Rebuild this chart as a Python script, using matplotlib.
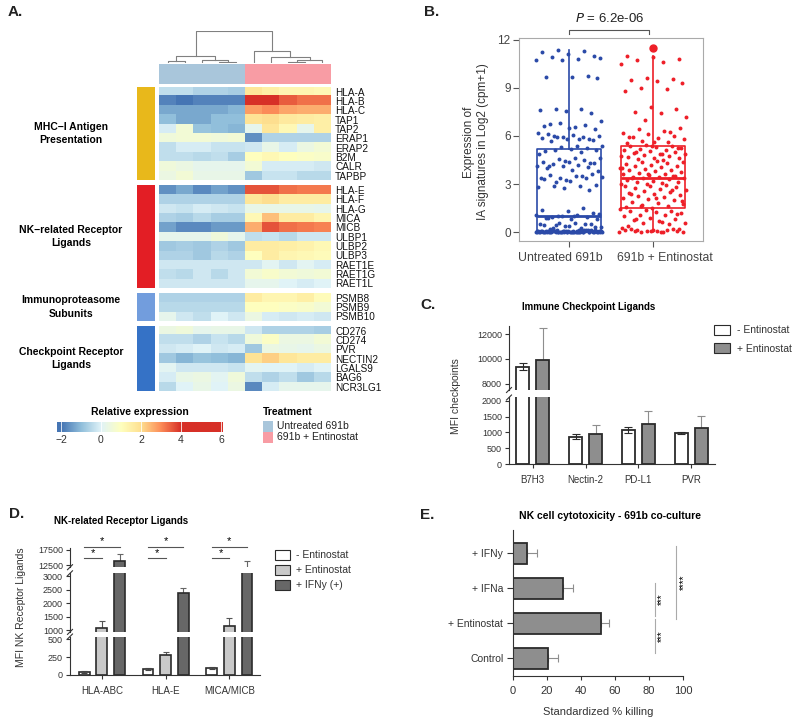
import numpy as np
import matplotlib
matplotlib.use("Agg")
import matplotlib.pyplot as plt
from matplotlib.colors import LinearSegmentedColormap, ListedColormap, Normalize
from matplotlib.patches import Rectangle

plt.rcParams['font.family'] = ['Liberation Sans', 'DejaVu Sans']

W, H = 793, 719

# ---------------- A. heatmap data ----------------
genes = ["HLA-A", "HLA-B", "HLA-C", "TAP1", "TAP2", "ERAP1", "ERAP2", "B2M", "CALR", "TAPBP",
         "HLA-E", "HLA-F", "HLA-G", "MICA", "MICB", "ULBP1", "ULBP2", "ULBP3", "RAET1E", "RAET1G", "RAET1L",
         "PSMB8", "PSMB9", "PSMB10",
         "CD276", "CD274", "PVR", "NECTIN2", "LGALS9", "BAG6", "NCR3LG1"]
group_names = ["MHC\u2212I Antigen\nPresentation", "NK\u2212related Receptor\nLigands",
               "Immunoproteasome\nSubunits", "Checkpoint Receptor\nLigands"]
group_sizes = [10, 11, 3, 7]
group_colors = ['#e8b81b', '#e31e25', '#729ddd', '#3572c6']
treatment = [0, 0, 0, 0, 0, 1, 1, 1, 1, 1]
treatment_names = ["Untreated 691b", "691b + Entinostat"]
treatment_colors = ['#a9c6db', '#f89ca4']

expr = np.array([
    [-0.4, -0.4, -0.6, -0.6, -0.7, 1.8, 1.5, 1.3, 1.3, 1.2],
    [-1.8, -2.0, -1.8, -1.8, -1.8, 4.5, 4.0, 3.5, 3.3, 3.3],
    [-1.3, -1.3, -1.3, -1.3, -1.1, 2.8, 3.0, 2.7, 2.6, 2.6],
    [-1.0, -1.3, -1.3, -1.0, -1.0, 1.9, 2.0, 1.7, 1.6, 1.5],
    [-0.1, 0.6, -0.9, -1.0, -1.1, 0.2, 1.8, 1.2, 0.2, 1.5],
    [0.5, 0.6, 0.6, 0.5, 0.6, -1.6, -0.6, -0.6, -0.6, -0.6],
    [-0.4, -0.1, -0.1, -0.3, -0.3, -0.2, 0.3, -0.1, 0.4, 0.6],
    [-0.4, -0.4, -0.5, -0.4, -0.7, 1.0, 1.2, 1.0, 0.9, 0.8],
    [0.5, 0.4, 0.2, 0.2, 0.2, 0.6, -0.1, -0.1, -0.1, -0.2],
    [0.4, 0.6, 0.3, 0.3, 0.3, -0.8, -0.3, -0.3, -0.5, -0.5],
    [-1.6, -1.3, -1.7, -1.4, -1.6, 3.6, 3.6, 3.3, 3.2, 3.2],
    [-0.6, -0.6, -0.6, -0.6, -0.6, 1.8, 2.0, 1.6, 1.6, 1.6],
    [-0.2, -0.3, -0.1, -0.2, -0.3, 0.3, 0.3, 0.3, 0.3, 0.2],
    [-0.6, -0.7, -0.5, -0.7, -0.7, 1.2, 2.4, 1.6, 1.6, 1.3],
    [-1.4, -1.7, -1.7, -1.5, -1.5, 2.6, 3.6, 3.3, 3.2, 3.1],
    [0.2, 0.2, 0.2, 0.5, 0.2, -0.4, -0.3, -0.5, -0.2, -0.2],
    [-0.8, -0.7, -0.8, -0.6, -0.8, 1.6, 1.6, 1.5, 1.4, 1.2],
    [-0.6, -0.6, -0.8, -0.5, -0.6, 1.0, 1.6, 1.3, 1.2, 1.1],
    [-0.2, -0.2, -0.2, -0.2, -0.2, -0.2, 0.1, -0.2, 0.1, -0.1],
    [-0.4, -0.5, -0.2, -0.5, -0.2, 0.6, 0.8, 0.6, 0.5, 0.6],
    [-0.2, -0.2, -0.2, -0.2, -0.2, 0.2, 0.2, 0.0, -0.1, 0.0],
    [-0.6, -0.6, -0.6, -0.6, -0.6, 1.6, 1.3, 1.3, 1.5, 1.1],
    [-0.5, -0.5, -0.5, -0.5, -0.5, 1.0, 1.0, 0.9, 0.8, 0.6],
    [0.2, -0.2, -0.4, 0.0, -0.2, 0.4, -0.1, -0.2, -0.1, -0.2],
    [0.4, 0.5, 0.2, 0.3, 0.3, -0.2, -0.6, -0.6, -0.6, -0.7],
    [-0.4, -0.4, -0.6, -0.3, -0.5, 0.5, 0.9, 0.4, 0.4, 0.6],
    [-0.2, -0.1, 0.0, -0.2, -0.1, -0.8, 0.4, 0.3, 0.2, 0.4],
    [-0.8, -1.1, -0.9, -1.0, -1.1, 1.9, 2.2, 1.8, 1.6, 1.6],
    [0.1, -0.2, -0.2, -0.2, -0.3, 0.1, 0.0, 0.0, -0.1, 0.0],
    [-0.1, 0.3, 0.4, 0.1, 0.5, -0.4, -0.6, -0.4, -0.8, -0.5],
    [-0.5, 0.0, 0.3, 0.0, 0.4, -1.7, -0.1, 0.2, 0.2, 0.2],
])

# column dendrogram: (left node, right node, height); new nodes numbered from 10
dendro_merges = [(0, 1, 0.25), (3, 4, 0.1), (2, 11, 0.45), (10, 12, 1.0),
                 (7, 8, 0.05), (14, 9, 0.4), (6, 15, 0.9), (5, 16, 1.8), (13, 17, 4.8)]

cbar_ticks = [-2, 0, 2, 4, 6]
cmap_nodes = [-2, -1, 0, 1, 2, 3, 4, 6]
cmap_cols = ['#4575b4', '#91bfdb', '#e0f3f8', '#ffffbf', '#fee090', '#fc8d59', '#d73027', '#d73027']

# ---------------- B. box plot data ----------------
b_groups = ["Untreated 691b", "691b + Entinostat"]
b_pvalue = "6.2e-06"
b_untreated = [
    0.0, 0.02, 0.05, 0.01, 0.03, 0.08, 0.0, 0.04, 0.06, 0.02, 0.1, 0.0, 0.03, 0.07, 0.01,
    0.05, 0.12, 0.0, 0.02, 0.09, 0.04, 0.06, 0.0, 0.03, 0.11, 0.05, 0.01, 0.08, 0.02, 0.0,
    0.04, 0.07, 0.13, 0.03, 0.06, 0.01, 0.09, 0.0, 0.05, 0.02, 0.15, 0.04, 0.0, 0.01, 0.03,
    0.06, 0.1, 0.02, 0.0, 0.05, 0.08, 0.01, 0.04, 0.12, 0.0, 0.03, 0.07, 0.02, 0.09, 0.0,
    0.06, 0.01, 0.14, 0.03, 0.05, 0.0, 0.02, 0.08, 0.04, 0.11,
    0.25, 0.3, 0.4, 0.45, 0.5, 0.55, 0.35, 0.6, 0.2, 0.48, 0.38, 0.52, 0.28, 0.42,
    0.8, 0.85, 0.9, 0.95, 1.0, 1.05, 1.1, 0.92, 1.2, 1.3, 1.4, 1.5, 0.98, 1.15, 1.02, 0.88,
    2.65, 2.75, 2.8, 2.85, 2.9, 2.95,
    3.2, 3.3, 3.35, 3.4, 3.45, 3.5, 3.55, 3.6, 3.25, 3.38, 3.48, 3.15,
    3.8, 3.9, 4.0, 4.05, 4.1, 4.15, 4.2, 4.25, 4.3, 4.35, 4.4, 4.5, 4.55, 4.6, 4.65, 4.12, 4.28, 4.45,
    4.9, 5.0, 5.1, 5.15, 5.2, 5.05,
    5.25, 5.3, 5.35, 5.4,
    5.7, 5.75, 5.8, 5.85, 5.9, 5.95, 6.0, 6.05, 6.1, 5.82, 5.92, 6.15, 5.78, 6.02,
    6.4, 6.5, 6.6, 6.7, 6.8, 6.9, 6.55, 6.75,
    7.45, 7.55, 7.6, 7.65, 7.7,
    9.6, 9.65, 9.7, 9.75,
    10.7, 10.75, 10.8, 10.9, 11.0, 11.1, 11.2, 11.3, 11.35, 10.85]
b_treated = [
    0.0, 0.02, 0.05, 0.08, 0.1, 0.12, 0.15, 0.0, 0.03, 0.06, 0.18, 0.2, 0.09, 0.25, 0.04, 0.14, 0.22, 0.11,
    0.4, 0.5, 0.55, 0.6, 0.7, 0.75, 0.8, 0.9, 1.0, 1.05, 1.1, 1.2, 1.25, 1.3, 1.35, 1.4, 1.45, 0.65, 0.85, 1.15,
    1.5, 1.55, 1.6, 1.7, 1.75, 1.8, 1.9, 2.0, 2.05, 2.1, 2.2, 2.25, 2.3, 2.4, 2.45, 2.5, 2.55, 2.6,
    2.7, 2.75, 2.8, 2.85, 2.9, 2.95, 1.65, 1.95, 2.15, 2.35, 2.65, 2.98,
    3.0, 3.05, 3.1, 3.15, 3.2, 3.25, 3.3, 3.35, 3.4, 3.42, 3.45, 3.5, 3.55, 3.6, 3.65, 3.7, 3.75, 3.8,
    3.85, 3.9, 3.95, 4.0, 4.05, 4.1, 4.15, 4.2, 4.25, 4.3, 4.35, 4.4, 4.45, 3.38, 3.48, 3.62, 4.02,
    4.5, 4.55, 4.6, 4.65, 4.7, 4.75, 4.8, 4.85, 4.9, 4.95, 5.0, 5.05, 5.1, 5.15, 5.2, 5.25, 5.3, 5.35,
    5.4, 5.45, 4.72, 4.88, 5.02, 5.22, 5.38,
    5.55, 5.6, 5.7, 5.8, 5.85, 5.9, 6.0, 6.1, 6.2, 6.3, 6.4, 6.5, 5.65, 5.95, 6.25,
    7.0, 7.2, 7.4, 7.5, 7.7, 7.8,
    8.8, 8.9, 9.0, 9.3, 9.4, 9.5, 9.55, 9.6,
    10.5, 10.6, 10.7, 10.8, 10.9, 11.0]
b_stats = [dict(med=1.0, q1=0.0, q3=5.2, whislo=0.0, whishi=11.35, fliers=[]),
           dict(med=3.4, q1=1.5, q3=5.35, whislo=0.0, whishi=11.0, fliers=[11.5])]
b_colors = ['#2b4aa8', '#ee1f28']

# ---------------- C. checkpoint ligands ----------------
c_cats = ["B7H3", "Nectin-2", "PD-L1", "PVR"]
c_minus = [9400, 870, 1080, 975]
c_minus_err = [300, 80, 100, 30]
c_plus = [9900, 960, 1265, 1150]
c_plus_err = [2550, 265, 410, 370]

# ---------------- D. NK receptor ligands ----------------
d_cats = ["HLA-ABC", "HLA-E", "MICA/MICB"]
d_minus = [42, 88, 98]
d_minus_err = [18, 17, 12]
d_plus = [1060, 281, 1150]
d_plus_err = [280, 38, 280]
d_ifng = [14000, 2360, 9000]
d_ifng_err = [2300, 210, 4700]

# ---------------- E. cytotoxicity ----------------
e_cats = ["Control", "+ Entinostat", "+ IFNa", "+ IFNy"]
e_vals = [20.3, 51.5, 29.6, 8.0]
e_err = [5.9, 5.1, 5.4, 5.9]

fig = plt.figure(figsize=(W / 100, H / 100), dpi=100)


def add_ax(x0, y0, x1, y1):
    return fig.add_axes([x0 / W, 1 - y1 / H, (x1 - x0) / W, (y1 - y0) / H])


def ftext(x, y, s, **kw):
    return fig.text(x / W, 1 - y / H, s, **kw)


def frect(x0, y0, x1, y1, **kw):
    fig.add_artist(Rectangle((x0 / W, 1 - y1 / H), (x1 - x0) / W, (y1 - y0) / H,
                             transform=fig.transFigure, **kw))


def clean(ax):
    for s in ax.spines.values():
        s.set_visible(False)
    ax.set_xticks([])
    ax.set_yticks([])


# ======== A ========
cmap = LinearSegmentedColormap.from_list(
    'hm', [((v + 2) / 8, c) for v, c in zip(cmap_nodes, cmap_cols)])
norm = Normalize(-2, 6)

row_h = 9.33
top = 87
start = 0
for g, n in enumerate(group_sizes):
    bottom = top + n * row_h
    ax = add_ax(159, top, 331, bottom)
    ax.imshow(expr[start:start + n], cmap=cmap, norm=norm, aspect='auto', interpolation='nearest')
    clean(ax)
    ax.set_yticks(range(n))
    ax.set_yticklabels(genes[start:start + n], fontsize=7.2, color='#111111')
    ax.yaxis.tick_right()
    ax.tick_params(axis='y', length=0, pad=3)
    gb = add_ax(137, top, 155.5, bottom)
    gb.set_facecolor(group_colors[g])
    clean(gb)
    ftext(71, (top + bottom) / 2, group_names[g], ha='center', va='center', fontsize=7.5,
          fontweight='bold', linespacing=1.4)
    start += n
    top = bottom + 5

axa = add_ax(159, 64, 331, 84)
axa.imshow([treatment], cmap=ListedColormap(treatment_colors), vmin=0, vmax=1, aspect='auto')
clean(axa)

axd = add_ax(159, 31, 331, 62.5)
pos = {i: float(i) for i in range(10)}
hgt = {i: 0.0 for i in range(10)}
for k, (a, b, h) in enumerate(dendro_merges):
    xa, xb = pos[a], pos[b]
    axd.plot([xa, xa, xb, xb], [hgt[a], h, h, hgt[b]], color='#808080', lw=0.8)
    pos[10 + k] = (xa + xb) / 2
    hgt[10 + k] = h
axd.set_xlim(-0.5, 9.5)
axd.set_ylim(0, 4.85)
axd.axis('off')

axc = add_ax(57, 421.5, 223, 432.5)
grad = np.linspace(-2.2, 6.1, 400)
axc.imshow([grad], cmap=cmap, norm=norm, aspect='auto', extent=(-2.2, 6.1, 0, 1))
for t in cbar_ticks:
    axc.axvline(t, color='white', lw=0.7, alpha=0.8)
for s in axc.spines.values():
    s.set_visible(False)
axc.set_yticks([])
axc.set_xticks(cbar_ticks)
axc.tick_params(axis='x', length=0, labelsize=7.5, pad=2, labelcolor='#333333')
ftext(140, 412, "Relative expression", ha='center', va='center', fontsize=7.5, fontweight='bold')

ftext(262.5, 412, "Treatment", ha='left', va='center', fontsize=7.5, fontweight='bold')
for i, (nm, col) in enumerate(zip(treatment_names, treatment_colors)):
    frect(262.5, 421 + i * 11, 273, 431.5 + i * 11, facecolor=col, edgecolor='none')
    ftext(277, 426.5 + i * 11, nm, ha='left', va='center', fontsize=7.5, color='#222222')

# ======== B ========
axB = add_ax(519, 38, 703, 241)
for i, (st, col) in enumerate(zip(b_stats, b_colors)):
    axB.bxp([st], positions=[i + 1], widths=0.76, showcaps=False, patch_artist=False,
            boxprops=dict(color=col, lw=1.2), medianprops=dict(color=col, lw=2.0),
            whiskerprops=dict(color=col, lw=1.2),
            flierprops=dict(marker='o', markerfacecolor=col, markeredgecolor=col, markersize=5))
for i, (vals, col) in enumerate(zip([b_untreated, b_treated], b_colors)):
    n = len(vals)
    xj = ((np.arange(n) * 0.6180339887) % 1.0 - 0.5) * 0.8
    axB.scatter(i + 1 + xj, vals, s=8, color=col, linewidths=0, zorder=3)
axB.set_xlim(0.4, 2.6)
axB.set_ylim(-0.55, 12.1)
axB.set_yticks([0, 3, 6, 9, 12])
axB.set_xticks([1, 2])
axB.set_xticklabels([])
axB.tick_params(axis='both', colors='#555555', labelcolor='#444444', length=4, width=0.8)
axB.tick_params(axis='y', labelsize=8.5, pad=2)
# group labels sit a little apart from the tick marks, as in the source figure
for xl, nm in zip([0.89, 2.14], b_groups):
    axB.text(xl, -1.6, nm, ha='center', va='center', fontsize=8.8, color='#444444', clip_on=False)
for s in axB.spines.values():
    s.set_color('#aaaaaa')
    s.set_linewidth(0.8)
axB.plot([1, 1, 1.95, 1.95], [12.35, 12.62, 12.62, 12.35], color='#555555', lw=0.8, clip_on=False)
ftext(610, 19, r"$\it{P}$ = " + b_pvalue, ha='center', va='center', fontsize=9.5, color='#222222')
ftext(476, 142, "Expression of\nIA signatures in Log2 (cpm+1)", ha='center', va='center',
      rotation=90, fontsize=8.5, color='#333333', linespacing=1.3)


# ======== broken bar helpers ========
def style_part(ax, ylim, ticks, last, x_lim, fs=6.5):
    ax.set_ylim(*ylim)
    ax.set_xlim(*x_lim)
    ax.set_yticks(ticks)
    ax.tick_params(axis='y', labelsize=fs, length=3, width=0.8, colors='#333333', pad=2)
    ax.spines['top'].set_visible(False)
    ax.spines['right'].set_visible(False)
    ax.spines['left'].set_color('#333333')
    ax.spines['bottom'].set_color('#333333')
    if not last:
        ax.spines['bottom'].set_visible(False)
        ax.set_xticks([])
    ax.patch.set_alpha(0)


def slash(ax, where):
    # short diagonal at the left spine end (where = 0 bottom, 1 top)
    bb = ax.get_position()
    dx = 2.5 / (bb.width * W)
    dy = 2.5 / (bb.height * H)
    ax.plot([-dx, dx], [where - dy, where + dy], transform=ax.transAxes, color='#333333',
            lw=0.8, clip_on=False)


# ======== C ========
def c_bars(ax):
    x = np.arange(len(c_cats))
    ax.bar(x - 0.19, c_minus, 0.24, color='white', edgecolor='#2b2b2b', lw=1.3, zorder=2)
    ax.errorbar(x - 0.19, c_minus, yerr=c_minus_err, fmt='none', ecolor='#2b2b2b',
                elinewidth=0.8, capsize=3, capthick=0.8, zorder=3)
    ax.bar(x + 0.19, c_plus, 0.24, color='#8e8e8e', edgecolor='#2b2b2b', lw=1.3, zorder=2)
    ax.errorbar(x + 0.19, c_plus, yerr=[np.zeros(len(c_plus)), c_plus_err], fmt='none',
                ecolor='#8e8e8e', elinewidth=0.8, capsize=3, capthick=0.8, zorder=1)


cU = add_ax(509, 326, 715, 390)
cL = add_ax(509, 397.5, 715, 464.3)
for ax in (cU, cL):
    c_bars(ax)
style_part(cU, (7520, 12640), [8000, 10000, 12000], False, (-0.45, 3.45))
style_part(cL, (0, 2100), [0, 500, 1000, 1500, 2000], True, (-0.45, 3.45))
cL.set_xticks(range(len(c_cats)))
cL.set_xticklabels(c_cats)
cL.tick_params(axis='x', labelsize=7, length=3, width=0.8, colors='#333333', pad=5)
slash(cU, 0)
slash(cL, 1)
ftext(456, 396, "MFI checkpoints", ha='center', va='center', rotation=90, fontsize=7.5, color='#333333')
ftext(589, 307, "Immune Checkpoint Ligands", ha='center', va='center', fontsize=7, fontweight='bold')
for i, (nm, col) in enumerate(zip(["- Entinostat", "+ Entinostat"], ['white', '#8e8e8e'])):
    frect(713.5, 325 + i * 18.5, 729.5, 334.5 + i * 18.5, facecolor=col, edgecolor='#2b2b2b', lw=0.8)
    ftext(737, 330 + i * 18.5, nm, ha='left', va='center', fontsize=7.5, color='#333333')


# ======== D ========
def d_bars(ax):
    x = np.arange(len(d_cats))
    z = np.zeros(len(d_cats))
    ax.bar(x - 0.277, d_minus, 0.17, color='white', edgecolor='#2b2b2b', lw=1.2, zorder=2)
    ax.errorbar(x - 0.277, d_minus, yerr=d_minus_err, fmt='none', ecolor='#444444',
                elinewidth=0.8, capsize=2.5, capthick=0.8, zorder=3)
    ax.bar(x, d_plus, 0.17, color='#c9c9c9', edgecolor='#2b2b2b', lw=1.2, zorder=2)
    ax.errorbar(x, d_plus, yerr=[z, d_plus_err], fmt='none', ecolor='#555555',
                elinewidth=0.8, capsize=2.5, capthick=0.8, zorder=1)
    ax.bar(x + 0.277, d_ifng, 0.17, color='#676767', edgecolor='#2b2b2b', lw=1.2, zorder=2)
    ax.errorbar(x + 0.277, d_ifng, yerr=[z, d_ifng_err], fmt='none', ecolor='#666666',
                elinewidth=0.8, capsize=2.5, capthick=0.8, zorder=1)


dT = add_ax(70, 548.4, 260, 567.2)
dM = add_ax(70, 573.3, 260, 631.9)
dB = add_ax(70, 636.5, 260, 675)
for ax in (dT, dM, dB):
    d_bars(ax)
style_part(dT, (11800, 18000), [12500, 17500], False, (-0.5, 2.48))
style_part(dM, (930, 3100), [1000, 1500, 2000, 2500, 3000], False, (-0.5, 2.48))
style_part(dB, (0, 540), [0, 250, 500], True, (-0.5, 2.48))
dB.set_xticks(range(len(d_cats)))
dB.set_xticklabels(d_cats)
dB.tick_params(axis='x', labelsize=7, length=3, width=0.8, colors='#333333', pad=5)
slash(dT, 0)
slash(dM, 1)
slash(dM, 0)
slash(dB, 1)
for i in range(len(d_cats)):
    dT.plot([i - 0.277, i + 0.277], [18560, 18560], color='#555555', lw=0.8, clip_on=False)
    dT.plot([i - 0.277, i], [14735, 14735], color='#555555', lw=0.8, clip_on=False)
    dT.text(i, 18700, "*", ha='center', va='bottom', fontsize=8, clip_on=False)
    dT.text(i - 0.1385, 14850, "*", ha='center', va='bottom', fontsize=8, clip_on=False)
ftext(21, 607, "MFI NK Receptor Ligands", ha='center', va='center', rotation=90, fontsize=7.5, color='#333333')
ftext(121, 521, "NK-related Receptor Ligands", ha='center', va='center', fontsize=7, fontweight='bold')
for i, (nm, col) in enumerate(zip(["- Entinostat", "+ Entinostat", "+ IFNy (+)"],
                                  ['white', '#c9c9c9', '#676767'])):
    frect(274.5, 549.5 + i * 15.3, 289.5, 559.5 + i * 15.3, facecolor=col, edgecolor='#2b2b2b', lw=0.8)
    ftext(296, 554.5 + i * 15.3, nm, ha='left', va='center', fontsize=7.5, color='#333333')

# ======== E ========
axE = add_ax(513, 530, 683, 676)
y = np.arange(len(e_cats))
axE.barh(y, e_vals, 0.58, color='#8e8e8e', edgecolor='#2b2b2b', lw=1.3, zorder=2)
axE.errorbar(e_vals, y, xerr=[np.zeros(len(e_vals)), e_err], fmt='none', ecolor='#8e8e8e',
             elinewidth=0.8, capsize=3, capthick=0.8, zorder=1)
axE.set_xlim(0, 100)
axE.set_ylim(-0.5, 3.67)
axE.set_xticks([0, 20, 40, 60, 80, 100])
axE.set_yticks(y)
axE.set_yticklabels(e_cats)
axE.spines['top'].set_visible(False)
axE.spines['right'].set_visible(False)
axE.spines['left'].set_color('#333333')
axE.spines['bottom'].set_color('#333333')
axE.tick_params(axis='y', labelsize=7.5, length=4, width=0.8, colors='#333333', pad=3)
axE.tick_params(axis='x', labelsize=8, length=3, width=0.8, colors='#333333', pad=4)
axE.set_xlabel("Standardized % killing", fontsize=8, color='#333333', labelpad=8)
axE.plot([83.5, 83.5], [0.16, 1.12], color='#aaaaaa', lw=0.8)
axE.plot([83.5, 83.5], [1.21, 2.16], color='#aaaaaa', lw=0.8)
axE.plot([95.6, 95.6], [1.14, 3.21], color='#aaaaaa', lw=0.8)
axE.text(87.3, 0.64, "***", rotation=90, ha='center', va='center', fontsize=7)
axE.text(87.3, 1.69, "***", rotation=90, ha='center', va='center', fontsize=7)
axE.text(100.3, 2.19, "****", rotation=90, ha='center', va='center', fontsize=7, clip_on=False)
ftext(610, 516, "NK cell cytotoxicity - 691b co-culture", ha='center', va='center', fontsize=7.5,
      fontweight='bold')

# panel letters
for lab, x, yy in [("A.", 8, 12), ("B.", 424, 12), ("C.", 420, 305), ("D.", 9, 514), ("E.", 420, 515)]:
    ftext(x, yy, lab, ha='left', va='center', fontsize=11, fontweight='bold', color='#222222')

fig.savefig("out.png", dpi=100)
